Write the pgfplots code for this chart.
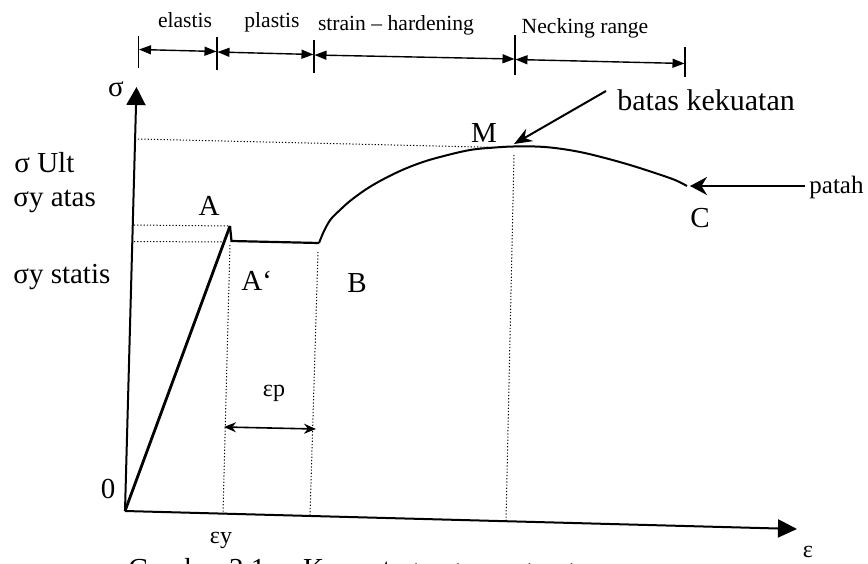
\documentclass[border=0pt]{standalone}
\usepackage{fontspec}
\setmainfont{Liberation Serif}
\usepackage{pgfplots}
\pgfplotsset{compat=1.18}
\usetikzlibrary{arrows.meta}
\newcommand{\fL}{\fontsize{14.5}{17}\selectfont}
\newcommand{\fM}{\fontsize{12}{14}\selectfont}
\newcommand{\fS}{\fontsize{10.8}{13}\selectfont}
\tikzset{lbl/.style={inner sep=0pt, text=black}}
\begin{document}
\begin{tikzpicture}
\begin{axis}[
  width=434pt, height=281.5pt, scale only axis,
  xmin=0, xmax=868, ymin=0, ymax=563, y dir=reverse,
  hide axis, clip=false,
]
% axes
\addplot[black, line width=1pt, -{Triangle[length=9pt,width=9.5pt]}] coordinates {(125,511) (136.5,87)};
\addplot[black, line width=1pt, -{Triangle[length=9.5pt,width=9pt]}] coordinates {(125,511) (797,529)};
% dotted guide lines
\addplot[black, line width=0.5pt, dash pattern=on 0.6pt off 1pt] coordinates {(138,139) (500,147.5)};
\addplot[black, line width=0.5pt, dash pattern=on 0.6pt off 1pt] coordinates {(134,225) (229,226)};
\addplot[black, line width=0.5pt, dash pattern=on 0.6pt off 1pt] coordinates {(134,241.5) (224,242)};
\addplot[black, line width=0.5pt, dash pattern=on 0.6pt off 1pt] coordinates {(230,245) (223,514)};
\addplot[black, line width=0.5pt, dash pattern=on 0.6pt off 1pt] coordinates {(318,252) (310,516)};
\addplot[black, line width=0.5pt, dash pattern=on 0.6pt off 1pt] coordinates {(514,155) (506,521)};
% stress-strain curve
\addplot[black, line width=1.4pt] coordinates {(125,511) (230,226)};
\addplot[black, line width=1.1pt] coordinates {(230,226) (231.5,241) (319,243)};
\addplot[black, line width=1pt, smooth, tension=0.6] coordinates {
 (319,243) (321,238) (325,229) (331,219) (340,210) (350,201) (365,190)
 (380,181) (400,171) (420,163) (440,157) (470,150) (495,147.5) (513,146.5)
 (535,146.5) (555,148) (580,152) (605,158) (630,165) (655,173) (675,180) (687,186)};
% epsilon p arrow
\addplot[black, line width=0.8pt, {Stealth[length=6pt,width=5pt]}-{Stealth[length=6pt,width=5pt]}] coordinates {(224,427) (316,429)};
% top bracket ticks
\addplot[black, line width=0.8pt] coordinates {(138.5,36) (138.5,68)};
\addplot[black, line width=0.8pt] coordinates {(217,37) (217,70)};
\addplot[black, line width=0.8pt] coordinates {(314,40) (314,73)};
\addplot[black, line width=0.8pt] coordinates {(515,35) (515,75)};
\addplot[black, line width=0.8pt] coordinates {(685,47) (685,77)};
% top bracket arrows
\addplot[black, line width=0.7pt, {Triangle[length=6pt,width=4.5pt]}-{Triangle[length=6pt,width=4.5pt]}] coordinates {(139,49.5) (216.5,51.5)};
\addplot[black, line width=0.7pt, {Triangle[length=6pt,width=4.5pt]}-{Triangle[length=6pt,width=4.5pt]}] coordinates {(217.5,52) (313.5,54.5)};
\addplot[black, line width=0.7pt, {Triangle[length=6pt,width=4.5pt]}-{Triangle[length=6pt,width=4.5pt]}] coordinates {(314.5,55) (514.5,59)};
\addplot[black, line width=0.7pt, {Triangle[length=6pt,width=4.5pt]}-{Triangle[length=6pt,width=4.5pt]}] coordinates {(515.5,59.5) (684.5,63.5)};
% annotation arrows
\addplot[black, line width=1pt, -{Stealth[length=9pt,width=7pt]}] coordinates {(606,91) (514,144)};
\addplot[black, line width=1pt, -{Stealth[length=8.5pt,width=9pt]}] coordinates {(805,186) (690,186)};
% labels
\node[lbl, anchor=base, font=\fS] at (axis cs:185,27) {elastis};
\node[lbl, anchor=base, font=\fS] at (axis cs:272,27.5) {plastis};
\node[lbl, anchor=base, font=\fS] at (axis cs:396,30) {strain -- hardening};
\node[lbl, anchor=base, font=\fS] at (axis cs:585,33) {Necking range};
\node[lbl, anchor=center, font=\fL] at (axis cs:116,89) {σ};
\node[lbl, anchor=base west, font=\fL] at (axis cs:14,172) {σ Ult};
\node[lbl, anchor=base west, font=\fL] at (axis cs:13,206) {σy atas};
\node[lbl, anchor=base west, font=\fL] at (axis cs:13,283) {σy statis};
\node[lbl, anchor=base, font=\fL] at (axis cs:209,215) {A};
\node[lbl, anchor=base west, font=\fL] at (axis cs:241,290) {A‘};
\node[lbl, anchor=base, font=\fL] at (axis cs:357,292) {B};
\node[lbl, anchor=base, font=\fL] at (axis cs:484,142) {M};
\node[lbl, anchor=base, font=\fL] at (axis cs:700,227) {C};
\node[lbl, anchor=center, font=\fL] at (axis cs:108,489) {0};
\node[lbl, anchor=center, font=\fM] at (axis cs:274,393) {εp};
\node[lbl, anchor=center, font=\fM] at (axis cs:221,540) {εy};
\node[lbl, anchor=center, font=\fM] at (axis cs:808,552) {ε};
\node[lbl, anchor=base west, font=\fontsize{15}{18}\selectfont] at (axis cs:617,110) {batas kekuatan};
\node[lbl, anchor=base west, font=\fontsize{12.5}{15}\selectfont] at (axis cs:809,193) {patah};
\node[lbl, anchor=base west, font=\fontsize{14.5}{17}\selectfont] at (axis cs:128,578) {Gambar 2.1\hspace{1.3em}Kurva tegangan regangan};
\end{axis}
\pgfresetboundingbox
\useasboundingbox (current axis.south west) rectangle (current axis.north east);
\end{tikzpicture}
\end{document}
